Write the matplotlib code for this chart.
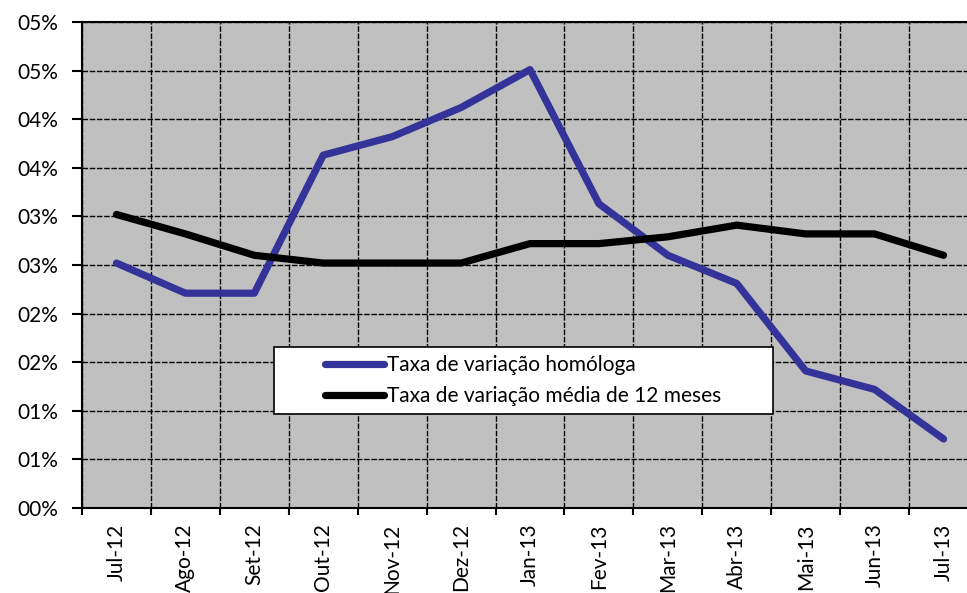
import numpy as np
import matplotlib
matplotlib.use('Agg')
import matplotlib.pyplot as plt
from matplotlib.patches import Rectangle

plt.rcParams['font.family'] = ['Lato', 'DejaVu Sans']

months = ['Jul-12', 'Ago-12', 'Set-12', 'Out-12', 'Nov-12', 'Dez-12', 'Jan-13',
          'Fev-13', 'Mar-13', 'Abr-13', 'Mai-13', 'Jun-13', 'Jul-13']
homologa = [2.52, 2.21, 2.21, 3.63, 3.82, 4.12, 4.51, 3.13, 2.60, 2.31, 1.41, 1.22, 0.71]
media_12m = [3.02, 2.82, 2.60, 2.52, 2.52, 2.52, 2.72, 2.72, 2.79, 2.91, 2.82, 2.82, 2.60]
y_ticks = [0.0, 0.5, 1.0, 1.5, 2.0, 2.5, 3.0, 3.5, 4.0, 4.5, 5.0]
y_labels = ['00%', '01%', '01%', '02%', '02%', '03%', '03%', '04%', '04%', '05%', '05%']

fig = plt.figure(figsize=(9.67, 5.93), dpi=100)
ax = fig.add_axes([82 / 967, 85 / 593, 896 / 967, 486 / 593])
ax.set_facecolor('#c0c0c0')

x = np.arange(len(months))
ax.plot(x, homologa, color='#333399', lw=5.2, solid_capstyle='round',
        solid_joinstyle='round', label='Taxa de variação homóloga', zorder=3)
ax.plot(x, media_12m, color='black', lw=5.2, solid_capstyle='round',
        solid_joinstyle='round', label='Taxa de variação média de 12 meses', zorder=3)

ax.set_xlim(-0.5, len(months) - 0.5)
ax.set_ylim(0, 5.0)

# category labels at centres, tick marks + grid at boundaries
ax.set_xticks(x)
ax.set_xticklabels(months, rotation=90, fontsize=15)
ax.set_xticks(np.arange(-0.5, len(months), 1.0), minor=True)
ax.tick_params(axis='x', which='major', length=0, pad=11)
ax.tick_params(axis='x', which='minor', length=5, width=1.5, direction='out')

ax.set_yticks(y_ticks)
ax.set_yticklabels(y_labels, fontsize=15)
ax.tick_params(axis='y', length=7, width=1.5, direction='out', pad=10)

grid_style = dict(color='black', lw=1.0, linestyle=(0, (4, 1.2)))
ax.grid(True, axis='y', which='major', **grid_style)
ax.grid(True, axis='x', which='minor', **grid_style)
ax.set_axisbelow(True)

for side in ['left', 'bottom', 'top', 'right']:
    ax.spines[side].set_linewidth(1.5)
    ax.spines[side].set_color('black')

# legend: white box with the entries centred inside it
box = Rectangle((0.214, 0.193), 0.557, 0.138, transform=ax.transAxes,
                facecolor='white', edgecolor='black', lw=1.2, zorder=4)
ax.add_patch(box)
leg = ax.legend(loc='center', bbox_to_anchor=(0.4925, 0.262), fontsize=15,
                frameon=False, handlelength=2.8, handletextpad=0.15,
                labelspacing=0.5, borderpad=0, borderaxespad=0)
leg.set_zorder(5)

fig.savefig('out.png', dpi=100)
